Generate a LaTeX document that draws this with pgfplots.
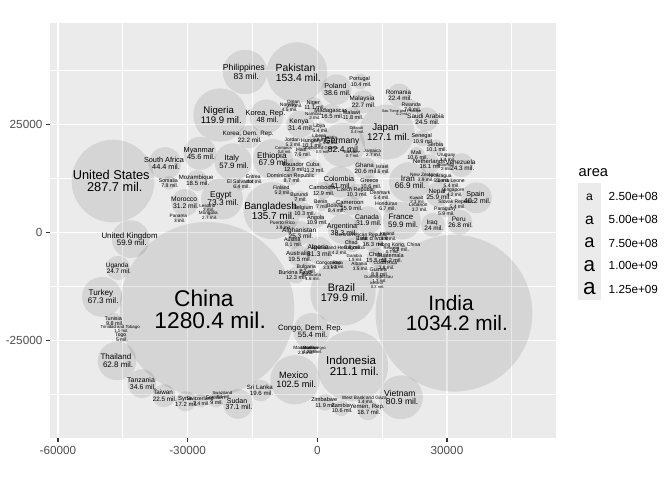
\documentclass[border=0pt]{standalone}
\usepackage{pgfplots}
\pgfplotsset{compat=1.18}
\usepackage{pgfplotstable}
\usepackage{fontspec}
\setmainfont{Liberation Sans}
\definecolor{panelbg}{HTML}{EBEBEB}
\definecolor{keybg}{HTML}{EBEBEB}
\definecolor{gray20}{HTML}{333333}
\definecolor{gray30}{HTML}{4D4D4D}

\pgfplotstableread[col sep=semicolon]{
name;x;y;pop;lab
China;-25.51;-17.76;1280.40;1280.4
India;31.62;-18.68;1034.17;1034.2
United States;-47.25;11.88;287.68;287.7
Indonesia;8.19;-30.88;211.06;211.1
Brazil;5.94;-13.94;179.91;179.9
Pakistan;-4.70;36.99;153.40;153.4
Bangladesh;-10.48;5.05;135.66;135.7
Japan;16.12;23.22;127.07;127.1
Nigeria;-22.51;27.15;119.90;119.9
Mexico;-5.16;-34.08;102.48;102.5
Philippines;-16.72;37.11;83.00;83
Germany;5.94;20.21;82.35;82.4
Vietnam;19.36;-38.13;80.91;80.9
Egypt;-22.04;7.82;73.31;73.3
Ethiopia;-10.25;16.97;67.95;67.9
Turkey;-49.80;-14.91;67.31;67.3
Iran;21.21;11.64;66.91;66.9
Thailand;-46.33;-29.72;62.81;62.8
France;19.59;2.73;59.93;59.9
United Kingdom;-43.16;-1.55;59.91;59.9
Italy;-19.50;16.34;57.93;57.9
Congo, Dem. Rep.;-1.34;-22.85;55.38;55.4
Korea, Rep.;-11.75;26.85;47.97;48
Myanmar;-27.13;18.29;45.60;45.6
South Africa;-35.23;15.97;44.43;44.4
Colombia;5.25;11.64;41.01;41
Spain;36.82;8.01;40.15;40.2
Poland;4.44;33.06;38.63;38.6
Argentina;5.94;0.76;38.33;38.3
Sudan;-18.34;-39.68;37.09;37.1
Tanzania;-40.55;-34.96;34.59;34.6
Canada;11.73;2.85;31.90;31.9
Kenya;-4.00;25.00;31.39;31.4
Algeria;0.39;-4.17;31.29;31.3
Morocco;-30.60;6.90;31.17;31.2
Peru;32.94;2.38;26.77;26.8
Nepal;27.92;8.80;25.87;25.9
Afghanistan;-4.00;-0.16;25.27;25.3
Uganda;-46.10;-8.20;24.74;24.7
Saudi Arabia;25.26;26.16;24.50;24.5
Venezuela;33.35;15.58;24.29;24.3
Iraq;26.76;1.76;24.00;24
Malaysia;10.57;30.23;22.66;22.7
Taiwan;-35.46;-37.78;22.45;22.5
Romania;18.97;31.78;22.40;22.4
Korea, Dem. Rep.;-15.80;22.13;22.22;22.2
Ghana;11.15;14.82;20.55;20.6
Sri Lanka;-13.09;-36.58;19.58;19.6
Australia;-4.23;-5.49;19.55;19.5
Yemen, Rep.;11.73;-41.02;18.70;18.7
Mozambique;-27.83;11.99;18.47;18.5
Syria;-30.44;-39.05;17.16;17.2
Madagascar;3.28;27.50;16.47;16.5
Cote d'Ivoire;12.88;-2.13;16.25;16.3
Netherlands;26.07;15.88;16.12;16.1
Cameroon;7.73;6.25;15.93;15.9
Chile;13.69;-5.76;15.50;15.5
Ecuador;-5.39;15.12;12.92;12.9
Cambodia;1.32;9.68;12.93;12.9
Burkina Faso;-4.93;-9.89;12.25;12.3
Zimbabwe;1.78;-39.29;11.93;11.9
Malawi;8.10;27.15;11.82;11.8
Cuba;-0.88;15.00;11.23;11.2
Guatemala;17.05;-5.95;11.18;11.2
Niger;-0.76;29.47;11.14;11.1
Senegal;24.33;21.76;10.87;10.9
Angola;-0.19;2.85;10.87;10.9
Greece;12.26;11.34;10.60;10.6
Zambia;5.60;-40.67;10.60;10.6
Mali;23.06;17.96;10.58;10.6
Portugal;9.99;34.91;10.43;10.4
Belgium;-3.08;5.05;10.31;10.3
Czech Republic;9.07;9.38;10.26;10.3
Serbia;27.46;19.75;10.11;10.1
Hungary;-1.23;20.67;10.08;10.1
Tunisia;-47.02;-20.42;9.77;9.8
Sweden;-23.43;-38.82;8.95;9
Chad;8.03;-2.94;8.84;8.8
Guinea;14.27;-9.12;8.81;8.8
Dominican Republic;-5.97;12.57;8.65;8.7
Bolivia;4.26;5.56;8.45;8.4
Austria;-5.62;-2.18;8.15;8.1
Rwanda;21.90;29.01;7.85;7.9
Somalia;-34.30;11.46;7.75;7.8
Bulgaria;-2.38;-8.50;7.66;7.7
Haiti;-3.54;18.59;7.61;7.6
Switzerland;-26.97;-38.94;7.36;7.4
Benin;0.97;6.44;7.03;7
Burundi;-4.00;8.24;7.02;7
Hong Kong, China;19.13;-3.52;6.76;6.8
Honduras;16.12;6.09;6.68;6.7
El Salvador;-17.65;11.18;6.35;6.4
Israel;15.20;14.65;6.03;6
Paraguay;29.70;4.82;5.88;5.9
Slovak Republic;32.31;6.55;5.41;5.4
Denmark;14.73;8.63;5.37;5.4
Libya;0.62;24.15;5.37;5.4
Sierra Leone;30.93;11.30;5.36;5.4
Jordan;-5.62;20.79;5.31;5.3
Finland;-8.17;9.75;5.19;5.2
Nicaragua;28.60;12.57;5.15;5.1
Togo;-45.33;-24.24;4.98;5
Norway;-6.55;29.01;4.54;4.5
Croatia;2.94;21.34;4.48;4.5
Eritrea;-14.64;12.34;4.41;4.4
Singapore;31.62;9.33;4.20;4.2
Bosnia and Herzegovina;5.02;-4.10;4.17;4.2
Central African Republic;10.34;-1.00;4.05;4
New Zealand;24.91;12.69;3.91;3.9
Puerto Rico;-7.93;1.69;3.86;3.9
Ireland;16.35;-0.86;3.88;3.9
Costa Rica;15.89;-7.57;3.83;3.8
Lebanon;23.52;5.86;3.68;3.7
Albania;9.88;-7.80;3.51;3.5
West Bank and Gaza;11.03;-38.71;3.39;3.4
Uruguay;30.00;17.43;3.36;3.4
Congo, Rep.;2.94;-7.57;3.33;3.3
Panama;-31.99;3.31;2.99;3
Mauritania;-2.85;-27.25;2.83;2.8
Liberia;0.62;21.83;2.81;2.8
Oman;-5.39;29.70;2.71;2.7
Mongolia;-25.05;4.00;2.67;2.7
Jamaica;12.88;18.36;2.66;2.7
Kuwait;23.06;7.48;2.11;2.1
Lesotho;-25.28;5.63;2.05;2
Slovenia;29.77;15.12;2.01;2
Namibia;-0.76;26.92;1.97;2
Botswana;-1.23;-10.35;1.63;1.6
Gambia;8.72;-5.95;1.46;1.5
Guinea-Bissau;14.27;-10.81;1.33;1.3
Gabon;4.56;-7.57;1.30;1.3
Mauritius;-1.69;-27.25;1.20;1.2
Swaziland;-21.81;-37.67;1.13;1.1
Trinidad and Tobago;-45.47;-22.32;1.10;1.1
Reunion;17.28;-4.10;0.74;0.7
Montenegro;-0.53;-27.25;0.72;0.7
Bahrain;8.03;18.13;0.66;0.7
Comoros;-7.70;19.05;0.61;0.6
Equatorial Guinea;1.09;19.05;0.50;0.5
Djibouti;9.16;23.68;0.45;0.4
Iceland;13.81;-12.20;0.29;0.3
Sao Tome and Principe;19.59;27.69;0.17;0.2
}\circles

\begin{document}
\begin{tikzpicture}
\path[use as bounding box] (-37.5pt,-31.5pt) rectangle (466.33pt,328.61pt);
\begin{axis}[
  name=ax, at={(0pt,0pt)}, anchor=south west,
  x=3.241pt, y=3.241pt,
  xmin=-61.83, xmax=55.21, ymin=-47.62, ymax=48.45,
  axis line style={draw=none},
  axis background/.style={fill=panelbg},
  xtick={-60,-30,0,30}, xticklabels={-60000,-30000,0,30000},
  ytick={-25,0,25}, yticklabels={-25000,0,25000},
  minor xtick={-45,-15,15,45}, minor ytick={-37.5,-12.5,12.5,37.5},
  grid=both,
  major grid style={white, line width=1.07pt},
  minor grid style={white, line width=0.53pt},
  tick align=outside, xtick pos=bottom, ytick pos=left,
  major tick length=2.75pt, minor tick length=0pt,
  tick style={color=gray20, line width=1.07pt},
  ticklabel style={font=\fontsize{8.8}{10}\selectfont, text=gray30, inner sep=0pt},
  xticklabel style={anchor=north, yshift=-3.2pt},
  yticklabel style={anchor=east, xshift=-2.8pt},
  clip=false,
]
\addplot[
  scatter, only marks, mark=*,
  scatter/use mapped color={draw opacity=0, fill=black, fill opacity=0.09},
  visualization depends on={3.241*sqrt(\thisrow{pop}/pi) \as \rad},
  scatter/@pre marker code/.append style={/tikz/mark size=\rad pt},
] table[x=x, y=y] {\circles};
% first line: country name
\addplot[
  draw=none, mark=none,
  point meta=explicit symbolic,
  visualization depends on={2.845*(1+5*sqrt((\thisrow{pop}-0.17)/1280.23)) \as \fs},
  nodes near coords={\pgfplotspointmeta\hspace*{0.278em}},
  every node near coord/.append style={anchor=base, inner sep=0pt,
     text=black, font=\fontsize{\fs}{\fs}\selectfont, yshift={(0.127*\fs)*1pt}},
] table[x=x, y=y, meta=name] {\circles};
% second line: population
\addplot[
  draw=none, mark=none,
  point meta=explicit symbolic,
  visualization depends on={2.845*(1+5*sqrt((\thisrow{pop}-0.17)/1280.23)) \as \fs},
  nodes near coords={\hspace*{0.278em}\pgfplotspointmeta\ mil.},
  every node near coord/.append style={anchor=base, inner sep=0pt,
     text=black, font=\fontsize{\fs}{\fs}\selectfont, yshift={(-0.843*\fs)*1pt}},
] table[x=x, y=y, meta=lab] {\circles};
\end{axis}
% legend
\node[anchor=west, inner sep=0pt, font=\fontsize{11}{13}\selectfont] at (396.2pt,199pt) {area};
\fill[keybg] (395.8pt,103.5pt) rectangle (413.0pt,191.5pt);
\node[inner sep=0pt, font=\fontsize{9.13}{10}\selectfont] at (404.4pt,181.0pt) {a};
\node[inner sep=0pt, font=\fontsize{11.73}{12}\selectfont] at (404.4pt,163.7pt) {a};
\node[inner sep=0pt, font=\fontsize{13.74}{14}\selectfont] at (404.4pt,146.4pt) {a};
\node[inner sep=0pt, font=\fontsize{15.42}{16}\selectfont] at (404.4pt,129.2pt) {a};
\node[inner sep=0pt, font=\fontsize{16.90}{17}\selectfont] at (404.4pt,111.9pt) {a};
\foreach \yy/\tt in {181.0/2.50e+08, 163.7/5.00e+08, 146.4/7.50e+08, 129.2/1.00e+09, 111.9/1.25e+09}{
  \node[anchor=west, inner sep=0pt, font=\fontsize{8.8}{10}\selectfont] at (418.7pt,\yy pt) {\tt};
}
\end{tikzpicture}
\end{document}
